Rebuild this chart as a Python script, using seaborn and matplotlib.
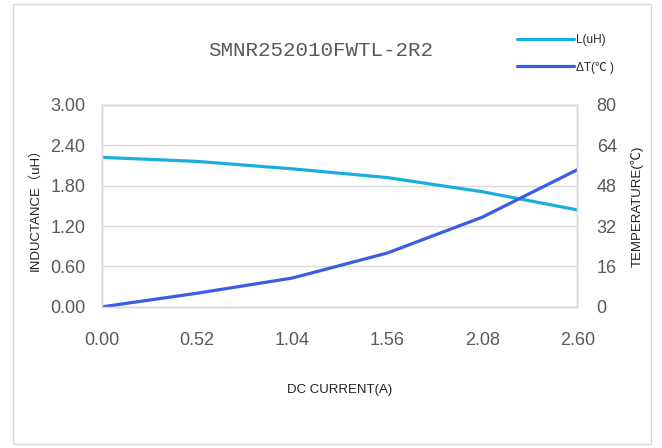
import numpy as np
import pandas as pd
import seaborn as sns
import matplotlib.pyplot as plt
from matplotlib.patches import Rectangle

current = [0.00, 0.52, 1.04, 1.56, 2.08, 2.60]
inductance = [2.22, 2.16, 2.05, 1.92, 1.71, 1.44]
delta_t = [0.0, 5.4, 11.4, 21.3, 35.5, 54.3]

x_ticks = [0.00, 0.52, 1.04, 1.56, 2.08, 2.60]
l_ticks = [0.00, 0.60, 1.20, 1.80, 2.40, 3.00]
t_ticks = [0, 16, 32, 48, 64, 80]

df = pd.DataFrame({'current': current, 'L': inductance, 'dT': delta_t})

sns.set_style('white')
plt.rcParams['font.family'] = ['Liberation Sans', 'Noto Sans CJK SC', 'DejaVu Sans']

fig = plt.figure(figsize=(6.62, 4.48), dpi=100)
ax = fig.add_axes([0.154, 0.315, 0.718, 0.451])
ax2 = ax.twinx()

grey = '#595959'
grid = '#D9D9D9'
c_l = '#1AAEE0'
c_t = '#3C5CE4'

sns.lineplot(data=df, x='current', y='L', ax=ax, color=c_l, linewidth=2.3, label='L(uH)', legend=False)
sns.lineplot(data=df, x='current', y='dT', ax=ax2, color=c_t, linewidth=2.3, label='ΔT(℃ )', legend=False)

ax.set_xlim(0, 2.60)
ax.set_ylim(0, 3.0)
ax2.set_ylim(0, 80)
ax.set_xticks(x_ticks)
ax.set_xticklabels([f'{v:.2f}' for v in x_ticks])
ax.set_yticks(l_ticks)
ax.set_yticklabels([f'{v:.2f}' for v in l_ticks])
ax2.set_yticks(t_ticks)
ax2.set_yticklabels([str(v) for v in t_ticks])

ax.yaxis.grid(True, color=grid, linewidth=1)
ax.set_axisbelow(True)
for a in (ax, ax2):
    for s in a.spines.values():
        s.set_color(grid)
        s.set_linewidth(1)
    a.tick_params(length=0, labelsize=13, colors=grey)
ax.tick_params(axis='x', pad=18)
ax.tick_params(axis='y', pad=12)
ax2.tick_params(axis='y', pad=14)

ax.set_xlabel('DC CURRENT(A)', fontsize=9.5, color='#222222', labelpad=25)
ax.set_ylabel('INDUCTANCE（uH）', fontsize=9.5, color='#222222', labelpad=6)
ax2.set_ylabel('TEMPERATURE(℃)', fontsize=9.5, color='#222222', labelpad=10)

fig.text(0.485, 0.888, 'SMNR252010FWTL-2R2', fontsize=15, color=grey,
         family='Liberation Mono', ha='center', va='center')

h1, l1 = ax.get_legend_handles_labels()
h2, l2 = ax2.get_legend_handles_labels()
fig.legend(h1 + h2, l1 + l2, loc='center left', bbox_to_anchor=(0.765, 0.88),
           frameon=False, fontsize=8.5, handlelength=4.8, handletextpad=0.2,
           labelspacing=1.3)

fig.patches.append(Rectangle((0.02, 0.01), 0.963, 0.98, transform=fig.transFigure,
                             fill=False, edgecolor='#D9D9D9', linewidth=1))

fig.savefig('out.png', dpi=100)
